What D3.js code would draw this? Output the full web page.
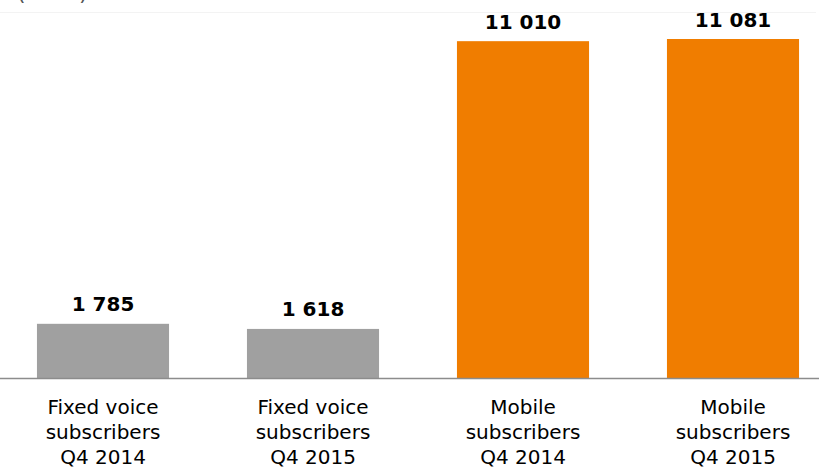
<!DOCTYPE html>
<html>
<head>
<meta charset="utf-8">
<script src="https://cdn.jsdelivr.net/npm/d3@7.9.0/dist/d3.min.js"></script>
<style>
  html, body { margin: 0; padding: 0; background: #fff; }
  svg { display: block; font-family: Verdana, "DejaVu Sans", sans-serif; }
</style>
</head>
<body>
<svg id="chart" width="819" height="467"></svg>
<script>
// --- DATA ---
const categories = ['Fixed Q4 2014', 'Fixed Q4 2015', 'Mobile Q4 2014', 'Mobile Q4 2015'];
const values = [1785, 1618, 11010, 11081];
const valueLabels = ['1 785', '1 618', '11 010', '11 081'];
const categoryLines = [
  ['Fixed voice', 'subscribers', 'Q4 2014'],
  ['Fixed voice', 'subscribers', 'Q4 2015'],
  ['Mobile', 'subscribers', 'Q4 2014'],
  ['Mobile', 'subscribers', 'Q4 2015']
];
const barColors = ['#a0a0a0', '#a0a0a0', '#f07d00', '#f07d00'];
const unitLabel = '(000s)';

const svg = d3.select('#chart');
const baseY = 378.5;

const x = d3.scaleBand()
  .domain(categories)
  .range([-2, 838])
  .paddingInner(0.371)
  .paddingOuter(0.1855);

const y = d3.scaleLinear()
  .domain([0, d3.max(values)])
  .range([baseY, 39]);

// faint frame line at top
svg.append('line')
  .attr('x1', 0).attr('x2', 816)
  .attr('y1', 12.5).attr('y2', 12.5)
  .attr('stroke', '#f3f3f3');

// cut-off unit label
svg.append('text')
  .attr('x', 17).attr('y', 0)
  .attr('font-size', 22)
  .attr('fill', '#555')
  .text(unitLabel);

// bars
svg.selectAll('rect.bar')
  .data(values)
  .join('rect')
  .attr('class', 'bar')
  .attr('x', (d, i) => x(categories[i]))
  .attr('width', x.bandwidth())
  .attr('y', d => y(d))
  .attr('height', d => baseY - y(d))
  .attr('fill', (d, i) => barColors[i]);

// axis line
svg.append('line')
  .attr('x1', 0).attr('x2', 819)
  .attr('y1', baseY).attr('y2', baseY)
  .attr('stroke', '#8c8c8c')
  .attr('stroke-width', 1.5);

// value labels
svg.selectAll('text.val')
  .data(values)
  .join('text')
  .attr('class', 'val')
  .attr('x', (d, i) => x(categories[i]) + x.bandwidth() / 2)
  .attr('y', d => y(d) - 12.5)
  .attr('text-anchor', 'middle')
  .attr('font-size', 20)
  .attr('font-weight', 'bold')
  .attr('fill', '#000')
  .text((d, i) => valueLabels[i]);

// category labels
const cat = svg.selectAll('g.cat')
  .data(categoryLines)
  .join('g')
  .attr('class', 'cat')
  .attr('transform', (d, i) => `translate(${x(categories[i]) + x.bandwidth() / 2},0)`);

cat.selectAll('text')
  .data(d => d)
  .join('text')
  .attr('x', 0)
  .attr('y', (d, i) => 414 + i * 25)
  .attr('text-anchor', 'middle')
  .attr('font-size', 20)
  .attr('fill', '#000')
  .text(d => d);
</script>
</body>
</html>
